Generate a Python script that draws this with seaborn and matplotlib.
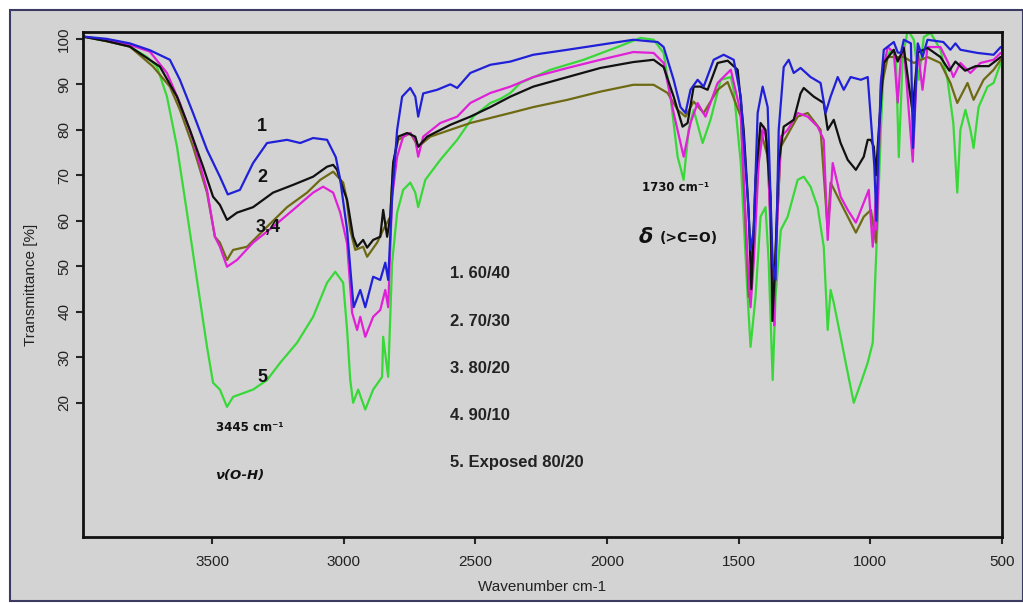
import numpy as np
import pandas as pd
import seaborn as sns
import matplotlib.pyplot as plt
from matplotlib.patches import Rectangle

# spectra (wavenumber cm-1, transmittance %)
wn_1 = [3990, 3900, 3812, 3736, 3660, 3622, 3572, 3519, 3470, 3440, 3394, 3344, 3291, 3215, 3165, 3116, 3063, 3030,
        3013, 2987, 2968, 2962, 2937, 2918, 2888, 2861, 2842, 2831, 2816, 2797, 2778, 2747, 2728, 2717, 2698, 2645,
        2595, 2569, 2519, 2443, 2367, 2280, 2150, 2025, 1900, 1808, 1785, 1747, 1721, 1702, 1683, 1656, 1633, 1595,
        1557, 1519, 1492, 1466, 1455, 1443, 1428, 1409, 1390, 1371, 1360, 1348, 1329, 1310, 1291, 1265, 1227, 1189,
        1170, 1151, 1124, 1101, 1075, 1036, 1010, 995, 985, 977, 970, 960, 949, 911, 896, 884, 873, 846, 838, 820,
        802, 783, 723, 696, 677, 658, 593, 532, 505]
t_1 = [100.5, 100, 99, 97.5, 95.4, 91, 83.7, 75.6, 69.7, 65.8, 66.8, 72.7, 77.1, 77.8, 77.1, 78.2, 77.8, 74,
       69, 58, 44.8, 41, 44.8, 41, 47.7, 47, 50.8, 47, 65.3, 80, 87.3, 89.2, 87.3, 82.9, 88, 88.8,
       90, 89.2, 92.5, 94.3, 95, 96.5, 97.6, 98.7, 99.8, 99.3, 98.2, 91, 85, 83.7, 88.8, 91, 89.5, 95.4,
       96.5, 95.4, 87.3, 65.3, 53.6, 58, 83.7, 89.5, 85, 50.8, 47, 80, 93.8, 95.4, 92.5, 93.6, 91.6, 90.3,
       83.7, 87.3, 91.6, 88.8, 91.6, 91, 91.6, 80, 72, 60, 75, 90, 97.6, 99.3, 97, 96.9, 99.8, 99, 76, 99,
       96, 99.8, 99.3, 97.6, 99, 97.6, 96.9, 96.5, 98.2]

wn_2 = [3990, 3900, 3812, 3698, 3633, 3584, 3534, 3496, 3470, 3443, 3405, 3344, 3268, 3192, 3116, 3063, 3040, 3025,
        3002, 2987, 2964, 2949, 2926, 2911, 2888, 2861, 2850, 2835, 2823, 2812, 2793, 2759, 2728, 2717, 2683, 2595,
        2519, 2443, 2367, 2280, 2150, 2025, 1900, 1823, 1785, 1747, 1713, 1694, 1671, 1645, 1618, 1580, 1542, 1504,
        1481, 1462, 1452, 1443, 1436, 1417, 1398, 1379, 1372, 1362, 1348, 1329, 1291, 1265, 1253, 1215, 1177, 1162,
        1139, 1113, 1086, 1055, 1025, 1010, 998, 987, 979, 968, 949, 911, 896, 873, 840, 820, 783, 734, 700, 677,
        640, 600, 550, 505]
t_2 = [100.5, 99.5, 98.3, 93.9, 87.3, 80, 71.9, 65.3, 63.5, 60.2, 61.8, 63, 66.2, 67.9, 69.7, 71.9, 72.3, 71.2,
       67, 64.6, 56.5, 54.3, 55.8, 54.1, 55.8, 56.5, 62.4, 56.5, 60.9, 72.7, 78.5, 79.3, 78.5, 76.3, 78.5, 81.1,
       82.9, 85, 87.3, 89.5, 91.6, 93.6, 94.9, 95.4, 93.8, 87.3, 80.7, 81.5, 89.5, 89.5, 88.8, 94.7, 95.2, 93.2,
       80, 62, 45, 58, 69, 81.5, 80, 65.3, 38, 50, 72.7, 80.7, 82.2, 88, 89.2, 87.3, 85.9, 80,
       82.2, 77.1, 73.4, 71.2, 74.1, 77.8, 77.8, 76.3, 70, 80, 94.7, 97.6, 95, 98, 84, 97, 98, 96, 93, 95,
       93, 94, 94, 96]

wn_3 = [3990, 3900, 3812, 3736, 3671, 3622, 3572, 3519, 3489, 3470, 3443, 3405, 3344, 3268, 3192, 3116, 3078, 3040,
        3013, 2987, 2968, 2949, 2937, 2918, 2888, 2861, 2842, 2831, 2816, 2797, 2774, 2747, 2728, 2717, 2698, 2633,
        2569, 2519, 2443, 2367, 2280, 2150, 2025, 1900, 1823, 1785, 1747, 1709, 1683, 1656, 1626, 1580, 1542, 1530,
        1492, 1466, 1455, 1443, 1424, 1405, 1390, 1371, 1365, 1360, 1340, 1314, 1276, 1238, 1200, 1177, 1162, 1143,
        1113, 1086, 1055, 1025, 1006, 991, 979, 975, 960, 934, 911, 896, 884, 873, 839, 820, 802, 783, 734, 704,
        685, 658, 620, 582, 532, 505]
t_3 = [100.5, 99.7, 98.7, 97.2, 92.5, 85.9, 77.8, 66.8, 56.5, 54.3, 49.9, 51.4, 55.2, 58.7, 62.4, 66.2, 67.5, 66.2,
       61.8, 55, 39.8, 36, 38.9, 34.5, 38.9, 40.4, 44.8, 41, 65.3, 74.1, 78.5, 79.3, 77.8, 74.1, 78.5, 81.5,
       82.9, 85.9, 88.1, 89.5, 91.6, 93.6, 95.4, 97.1, 96.9, 94.7, 83.7, 74.1, 81.5, 85.9, 82.9, 90.3, 92.5, 93.2,
       83.7, 50.8, 41, 50.8, 72.7, 80.7, 76.3, 43.3, 37, 50.8, 78.5, 80, 83.7, 82.9, 80.7, 77.8, 55.8, 72.7,
       65.3, 62.4, 59.6, 64, 66.8, 54.3, 65.3, 58, 91, 98.2, 97, 86, 96, 98.2, 73, 97.6, 88.8, 98.2, 98.2, 94.7,
       91.6, 94.7, 92.5, 94.7, 95.4, 96.9]

wn_4 = [3990, 3900, 3812, 3724, 3660, 3622, 3572, 3519, 3489, 3470, 3443, 3420, 3367, 3291, 3215, 3139, 3089, 3040,
        3002, 2990, 2975, 2956, 2926, 2911, 2873, 2850, 2823, 2812, 2793, 2747, 2717, 2671, 2595, 2519, 2443, 2367,
        2280, 2150, 2025, 1900, 1823, 1770, 1732, 1702, 1671, 1633, 1580, 1542, 1492, 1462, 1443, 1417, 1390, 1367,
        1340, 1276, 1238, 1189, 1162, 1151, 1113, 1055, 1025, 998, 979, 960, 934, 911, 873, 835, 783, 734, 696, 670,
        631, 608, 570, 532, 505]
t_4 = [100.5, 99.5, 98.3, 93.9, 89.5, 84.4, 76.3, 66.2, 56.5, 55.2, 51.4, 53.6, 54.3, 58.7, 63, 66.2, 69, 70.8,
       68.4, 65.3, 58, 53.6, 54.3, 52.1, 55.2, 58, 60.9, 72.7, 77.8, 79.3, 76.3, 78.5, 80, 81.5, 82.6, 83.7,
       85, 86.6, 88.4, 89.9, 89.9, 88.1, 84.4, 82.9, 86.2, 83.7, 88.8, 90.5, 82.9, 43.3, 58, 80, 74.1, 44.8,
       76.3, 82.9, 83.7, 80, 58, 68.4, 64, 57.4, 60.9, 62.4, 55.2, 88.8, 96, 96, 96, 94.7, 96, 94.7, 90.3, 85.9,
       90.3, 86.6, 91, 93.2, 95.4]

wn_5 = [3990, 3900, 3812, 3747, 3709, 3671, 3633, 3595, 3557, 3519, 3496, 3470, 3443, 3420, 3344, 3291, 3241, 3177,
        3116, 3063, 3032, 3002, 2987, 2975, 2964, 2945, 2918, 2888, 2854, 2850, 2831, 2816, 2797, 2774, 2747, 2728,
        2717, 2690, 2633, 2569, 2508, 2443, 2405, 2367, 2329, 2215, 2089, 1960, 1873, 1823, 1785, 1759, 1732, 1709,
        1690, 1671, 1637, 1607, 1568, 1530, 1519, 1492, 1466, 1455, 1436, 1417, 1398, 1386, 1371, 1360, 1340, 1314,
        1276, 1253, 1227, 1200, 1177, 1162, 1151, 1139, 1113, 1086, 1063, 1036, 1010, 991, 979, 972, 960, 949, 922,
        903, 892, 877, 858, 835, 816, 797, 771, 734, 707, 685, 670, 658, 639, 620, 608, 589, 555, 532, 505]
t_5 = [100.5, 99.5, 98.3, 96, 93.9, 87.3, 76.3, 61.8, 47, 32.3, 24.4, 22.9, 19.1, 21.3, 22.9, 25, 28.8, 33.2,
       38.9, 46.4, 48.8, 46.4, 36, 25, 20, 22.9, 18.5, 22.9, 25.7, 34.5, 25.7, 50.8, 61.8, 66.8, 68.4, 66.2,
       63, 69, 73.4, 77.8, 82.9, 85.9, 86.8, 88.1, 90.3, 93.2, 95.4, 98.2, 100.2, 99.8, 96.9, 87.3, 74.1, 69,
       80, 84.4, 77.1, 82.2, 91, 91.6, 88.8, 72.7, 43.3, 32.3, 43.3, 60.9, 63, 50.8, 25, 43.3, 58, 60.9,
       69, 69.7, 67.5, 63, 54.3, 36, 44.8, 42, 34.5, 26.6, 20, 24.4, 28.8, 33.2, 50.8, 61, 80, 94.7, 97.6,
       96, 74, 96, 102, 99.8, 91, 100.4, 101.3, 97.6, 91, 81.5, 66.2, 80, 84.4, 80, 76, 85, 89.5, 90.3, 94.7]

sample_names = ["1", "2", "3", "4", "5"]
legend_lines = ["1. 60/40", "2. 70/30", "3. 80/20", "4. 90/10", "5. Exposed 80/20"]
line_colors = ["#2020d8", "#111111", "#e020d8", "#6e6a14", "#38d838"]

frames = []
for name, wn, t in zip(sample_names, [wn_1, wn_2, wn_3, wn_4, wn_5], [t_1, t_2, t_3, t_4, t_5]):
    frames.append(pd.DataFrame({"wavenumber": wn, "T": t, "sample": name}))
spectra = pd.concat(frames, ignore_index=True)

sns.set_style("ticks")
plt.rcParams['font.family'] = ['Liberation Sans', 'DejaVu Sans']

bg = "#d3d3d3"
fig = plt.figure(figsize=(10.23, 6.03), dpi=100, facecolor="white")
# gray panel with a dark top edge, as in the pasted picture
fig.patches.append(Rectangle((0.0098, 0.004), 0.99, 0.979, transform=fig.transFigure,
                             facecolor=bg, edgecolor="#3a3a62", lw=1.5, zorder=-10))
ax = fig.add_axes([0.0811, 0.1095, 0.8984, 0.8374])
ax.set_facecolor(bg)

# draw green first so the blue trace ends up on top
for name in ["5", "4", "3", "2", "1"]:
    d = spectra[spectra["sample"] == name]
    sns.lineplot(data=d, x="wavenumber", y="T", sort=False, estimator=None,
                 color=line_colors[int(name) - 1], lw=1.6, ax=ax, legend=False)

ax.set_xlim(3990, 500)
ax.set_ylim(-9.5, 101.5)
ax.set_xticks([3500, 3000, 2500, 2000, 1500, 1000, 500])
ax.set_yticks([20, 30, 40, 50, 60, 70, 80, 90, 100])
ax.tick_params(direction="out", length=5, width=1.5, labelsize=11, labelcolor="#222222")
ax.tick_params(axis="x", pad=8)
for lab in ax.get_yticklabels():
    lab.set_rotation(90)
    lab.set_va("center")
for s in ax.spines.values():
    s.set_linewidth(2)
    s.set_color("#111111")
ax.set_xlabel("Wavenumber cm-1", fontsize=11, labelpad=8, color="#222222")
ax.set_ylabel("Transmittance [%]", fontsize=11, labelpad=14, color="#222222")

# curve numbers and band notes
kw = dict(fontweight="bold", color="#111111", ha="center", va="center")
ax.text(3310, 80.7, "1", fontsize=13, **kw)
ax.text(3310, 69.5, "2", fontsize=13, **kw)
ax.text(3287, 58.5, "3,4", fontsize=13, **kw)
ax.text(3310, 25.5, "5", fontsize=13, **kw)
ax.text(3356, 14.5, "3445 cm⁻¹", fontsize=8.5, family="DejaVu Sans", **kw)
ax.text(3394, 4, "ν(O-H)", fontsize=9.5, family="DejaVu Sans", style="italic", **kw)
ax.text(1740, 67.3, "1730 cm⁻¹", fontsize=8.5, family="DejaVu Sans", **kw)
ax.text(1854, 56.5, "δ", fontsize=15, family="DejaVu Sans", style="italic", **kw)
ax.text(1690, 56.2, "(>C=O)", fontsize=10, family="DejaVu Sans", **kw)

for line, y in zip(legend_lines, [48.4, 37.8, 27.5, 17.1, 6.8]):
    ax.text(2595, y, line, fontsize=12, fontweight="bold", color="#222222", ha="left", va="center")

fig.savefig("out.png", dpi=100, facecolor="white")
